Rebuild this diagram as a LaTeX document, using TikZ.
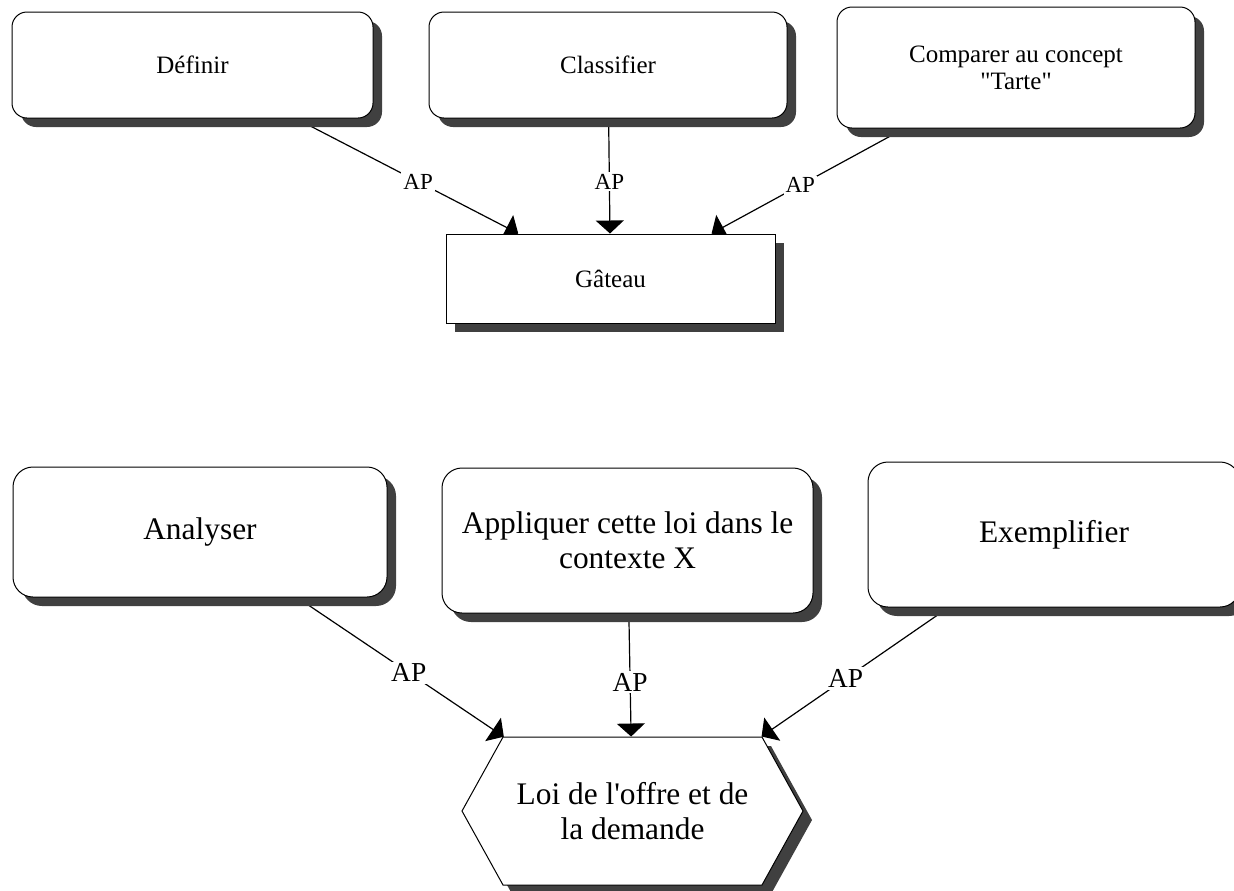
\documentclass[tikz,border=0pt]{standalone}
\usepackage{fontspec}
\setmainfont{Liberation Serif}
\usetikzlibrary{shapes.symbols,shadows,arrows.meta}
\pgfdeclarelayer{background}
\pgfsetlayers{background,main}

\begin{document}
\begin{tikzpicture}[x=0.5pt, y=-0.5pt,
    ombre/.style={drop shadow={fill=black!75, opacity=1, shadow xshift=4.5pt, shadow yshift=-4.5pt}},
    tache/.style={draw, line width=0.5pt, fill=white, rounded corners=7.5pt, ombre, align=center, inner sep=0pt, font=\fontsize{12.5}{13.5}\selectfont},
    grandetache/.style={tache, rounded corners=10pt, font=\fontsize{15.7}{17.5}\selectfont},
    lien/.style={line width=0.6pt, -{Triangle[width=14pt,length=6.5pt]}},
    ap/.style={fill=white, inner sep=1pt, font=\fontsize{11.5}{12}\selectfont},
    grandap/.style={ap, font=\fontsize{13.7}{14}\selectfont}]
    \useasboundingbox (0,0) rectangle (1234,890);

    % premier schema
    \node[tache, minimum width=180.5pt, minimum height=53pt] (def) at (192.5,65) {Définir};
    \node[tache, minimum width=179pt, minimum height=53pt] (cla) at (608,65) {Classifier};
    \node[tache, minimum width=179pt, minimum height=60.5pt] (cmp) at (1016,67.5) {Comparer au concept\\\textquotedbl Tarte\textquotedbl};
    \node[draw, line width=0.5pt, fill=white, ombre, inner sep=0pt, minimum width=164.5pt, minimum height=44.5pt, font=\fontsize{12.5}{13.5}\selectfont] (gat) at (610.5,278.5) {Gâteau};

    % second schema
    \node[grandetache, minimum width=187pt, minimum height=65pt] (ana) at (200,532) {Analyser};
    \node[grandetache, minimum width=185.5pt, minimum height=72.5pt] (app) at (627.5,540.5) {Appliquer cette loi dans le\\contexte X};
    \node[grandetache, minimum width=186pt, minimum height=72.5pt] (exe) at (1054,534.5) {Exemplifier};
    \node[draw, line width=0.5pt, fill=white, ombre, signal, signal to=west and east, signal pointer angle=122,
          inner sep=0pt, minimum width=170.5pt, minimum height=74pt, align=center,
          font=\fontsize{15.7}{17.5}\selectfont] (loi) at (632.5,811) {Loi de l\textquotesingle offre et de\\la demande};

    \begin{pgfonlayer}{background}
        \draw[lien] (def) -- (gat.154) node[ap, pos=0.55] {AP};
        \draw[lien] (cla) -- (gat) node[ap, pos=0.55] {AP};
        \draw[lien] (cmp) -- (gat.24) node[ap, pos=0.54] {AP};
        \draw[lien] (ana) -- (loi.150) node[grandap, pos=0.54] {AP};
        \draw[lien] (app) -- (loi) node[grandap, pos=0.56] {AP};
        \draw[lien] (exe) -- (loi.30) node[grandap, pos=0.55] {AP};
    \end{pgfonlayer}
\end{tikzpicture}
\end{document}
